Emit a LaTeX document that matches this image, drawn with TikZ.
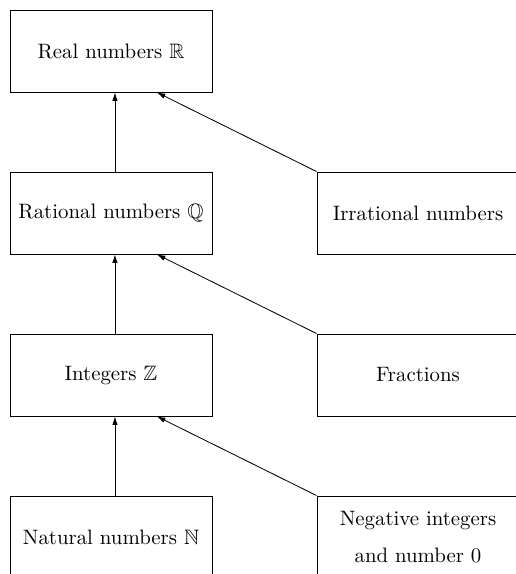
\documentclass[tikz,border=0pt]{standalone}
\usepackage{amssymb}
\usetikzlibrary{arrows.meta}

\tikzset{every picture/.style={line width=0.4pt}}
\tikzset{
  numbox/.style={draw, rectangle, minimum width=97pt, minimum height=39.4pt, inner sep=0pt, align=center},
  upto/.style={-{Latex[length=4pt,width=2.6pt]}}
}

\begin{document}
\begin{tikzpicture}[x=0.48pt,y=0.48pt,yscale=-1]
\clip (0,0) rectangle (516,574);

% Left column
\node[numbox] (real) at (111,51) {Real numbers $\mathbb{R}$};
\node[numbox] (rational) at (111,213) {Rational numbers $\mathbb{Q}$};
\node[numbox] (integers) at (111,375) {Integers $\mathbb{Z}$};
\node[numbox] (natural) at (111,537) {Natural numbers $\mathbb{N}$};

% Right column
\node[numbox] (irrational) at (418,213) {Irrational numbers};
\node[numbox] (fractions) at (418,375) {Fractions};
\node[numbox] (negint) at (418,537) {Negative integers\\[6pt]and number 0};

% Vertical arrows
\draw[upto] ([xshift=1.9pt]rational.north) -- ([xshift=1.9pt]real.south);
\draw[upto] ([xshift=1.9pt]integers.north) -- ([xshift=1.9pt]rational.south);
\draw[upto] ([xshift=1.9pt]natural.north) -- ([xshift=1.9pt]integers.south);

% Diagonal arrows
\draw[upto] (irrational.north west) -- ([xshift=22.1pt]real.south);
\draw[upto] (fractions.north west) -- ([xshift=22.1pt]rational.south);
\draw[upto] (negint.north west) -- ([xshift=22.1pt]integers.south);

\end{tikzpicture}
\end{document}
